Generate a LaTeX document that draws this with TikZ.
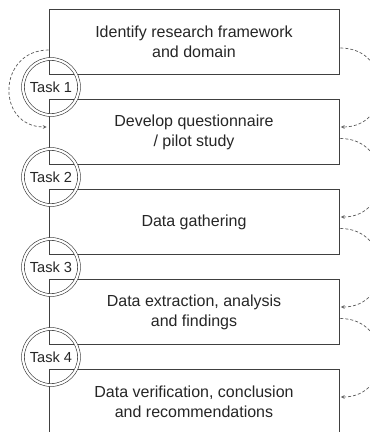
\documentclass[tikz,border=0pt]{standalone}
\usepackage{fontspec}
\setmainfont{Liberation Sans}
\usetikzlibrary{shadows}

\begin{document}
\begin{tikzpicture}[x=1pt, y=-1pt,
    stage/.style={draw=black!75, line width=0.7pt, fill=white, text=black!85,
        minimum width=290pt, minimum height=64.5pt, inner sep=0pt, align=center,
        font=\fontsize{16}{20}\selectfont,
        drop shadow={shadow xshift=1.2pt, shadow yshift=-1.2pt, fill=black!55, opacity=0.8}},
    task/.style={circle, draw=black!80, line width=0.6pt, double, double distance=2.2pt,
        minimum size=56pt, inner sep=0pt, text=black!85, font=\fontsize{14.6}{18}\selectfont},
    feedback/.style={draw=black!65, line width=0.7pt, dash pattern=on 3pt off 2pt, ->, >=stealth}
]
    \useasboundingbox (0,0) rectangle (370,432);
    \clip (0,0) rectangle (370,432);

    % Stages
    \node[stage] (s1) at (194,42)  {Identify research framework\\and domain};
    \node[stage] (s2) at (194,132) {Develop questionnaire\\/ pilot study};
    \node[stage] (s3) at (194,222) {Data gathering};
    \node[stage] (s4) at (194,312) {Data extraction, analysis\\and findings};
    \node[stage] (s5) at (194,402) {Data verification, conclusion\\and recommendations};

    % Tasks between the stages
    \node[task] (t1) at (51,87)  {Task 1};
    \node[task] (t2) at (51,177) {Task 2};
    \node[task] (t3) at (51,267) {Task 3};
    \node[task] (t4) at (51,357) {Task 4};

    % Feedback on the left
    \draw[feedback] ([yshift=-8pt]s1.west) to[out=180, in=180, looseness=1.7] ([xshift=-2pt, yshift=5pt]s2.west);

    % Feedback on the right
    \draw[feedback] ([xshift=1pt, yshift=-6pt]s1.east) to[out=0, in=0, looseness=1.7] ([xshift=1.5pt, yshift=5pt]s2.east);
    \draw[feedback] ([xshift=1pt, yshift=-6.5pt]s2.east) to[out=0, in=0, looseness=1.7] ([xshift=1.5pt, yshift=5pt]s3.east);
    \draw[feedback] ([xshift=1pt, yshift=-6.5pt]s3.east) to[out=0, in=0, looseness=1.7] ([xshift=1.5pt, yshift=5pt]s4.east);
    \draw[feedback] ([xshift=1pt, yshift=-6.5pt]s4.east) to[out=0, in=0, looseness=1.7] ([xshift=1.5pt, yshift=5pt]s5.east);

\end{tikzpicture}
\end{document}
